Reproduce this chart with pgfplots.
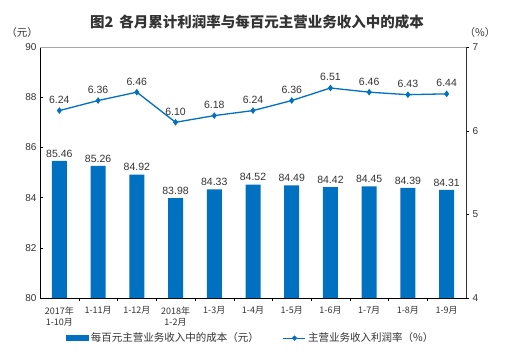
\documentclass[border=0pt]{standalone}
\usepackage{fontspec}
\setmainfont{Liberation Sans}
\newfontfamily\cjk{Noto Sans CJK SC}
\usepackage{pgfplots}
\pgfplotsset{compat=1.18}
\definecolor{barblue}{HTML}{0070C0}
\definecolor{txt}{HTML}{333333}
\begin{document}
\begin{tikzpicture}
\useasboundingbox (0,0) rectangle (510pt,361pt);
\begin{axis}[
  at={(40pt,63pt)}, anchor=south west, scale only axis,
  width=426pt, height=251pt,
  xmin=-0.5, xmax=10.5, ymin=80, ymax=90,
  axis x line*=bottom, axis y line*=left,
  x axis line style={-}, y axis line style={-},
  ytick={80,82,...,90},
  xtick={0,...,10},
  xticklabels={{2017年\\1-10月},{1-11月},{1-12月},{2018年\\1-2月},{1-3月},{1-4月},{1-5月},{1-6月},{1-7月},{1-8月},{1-9月}},
  xticklabel style={font=\cjk\fontsize{9}{11}\selectfont, align=center, text=txt, anchor=north, yshift=-2pt},
  major x tick style={draw=none},
  minor xtick={0.5,1.5,...,9.5},
  minor tick length=3pt, major tick length=3pt,
  yticklabel style={font=\fontsize{10}{12}\selectfont, text=txt},
  /pgf/number format/assume math mode=true,
  axis line style={black, line width=0.8pt},
  tick style={black},
  ybar, bar width=15pt,
  nodes near coords,
  nodes near coords style={font=\fontsize{10.5}{12}\selectfont, text=txt, /pgf/number format/.cd, fixed, fixed zerofill, precision=2},
  clip=false,
  after end axis/.code={\draw[gray!70, line width=0.6pt] (rel axis cs:0,1) -- (rel axis cs:1,1);},
]
\addplot[fill=barblue, draw=none] coordinates {
(0,85.46) (1,85.26) (2,84.92) (3,83.98) (4,84.33) (5,84.52) (6,84.49) (7,84.42) (8,84.45) (9,84.39) (10,84.31)};
\end{axis}
\begin{axis}[
  at={(40pt,63pt)}, anchor=south west, scale only axis,
  width=426pt, height=251pt,
  xmin=-0.5, xmax=10.5, ymin=4, ymax=7,
  ytick={4,5,6,7},
  axis x line=none, axis y line*=right,
  axis line style={black!80, line width=0.8pt},
  y axis line style={-},
  tick style={black}, major tick length=3pt, tick align=outside,
  yticklabel style={font=\fontsize{10}{12}\selectfont, text=txt},
  /pgf/number format/assume math mode=true,
  nodes near coords,
  nodes near coords style={font=\fontsize{10.5}{12}\selectfont, text=txt, anchor=south, yshift=3pt, /pgf/number format/.cd, fixed, fixed zerofill, precision=2},
  clip=false,
  legend style={at={(0.495,-0.16)}, anchor=center, draw=none, font=\cjk\fontsize{10.5}{12}\selectfont, text=txt, legend columns=2, /tikz/every even column/.append style={column sep=22pt}},
]
\addlegendimage{legend image code/.code={\fill[barblue] (0pt,-2.5pt) rectangle (22pt,2.5pt);}}
\addlegendentry{每百元主营业务收入中的成本（元）}
\addplot[color=barblue, line width=1.3pt, mark=diamond*, mark size=2.3pt,
  legend image code/.code={\draw[barblue, line width=1.3pt] (0pt,0pt) -- (22pt,0pt); \fill[barblue] (11pt,0pt) circle (1.8pt);}] coordinates {
(0,6.24) (1,6.36) (2,6.46) (3,6.10) (4,6.18) (5,6.24) (6,6.36) (7,6.51) (8,6.46) (9,6.43) (10,6.44)};
\addlegendentry{主营业务收入利润率（\%）}
\end{axis}
\node[font=\cjk\bfseries\fontsize{14.5}{16}\selectfont, text=txt] at (257pt,339pt) {图2\, 各月累计利润率与每百元主营业务收入中的成本};
\node[font=\cjk\fontsize{10.5}{12}\selectfont, text=txt] at (22pt,328pt) {（元）};
\node[font=\cjk\fontsize{10.5}{12}\selectfont, text=txt] at (480pt,328pt) {（\%）};
\end{tikzpicture}
\end{document}
